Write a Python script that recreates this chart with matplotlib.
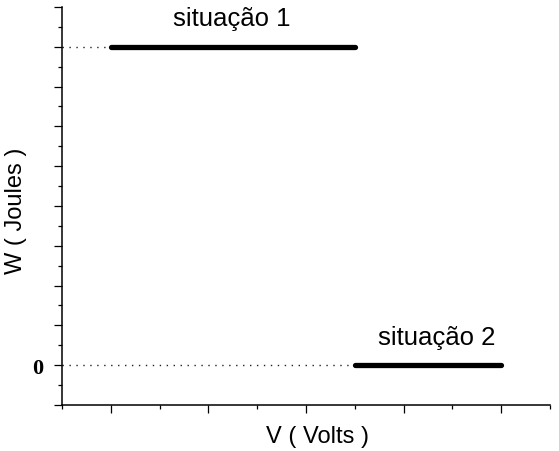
import matplotlib.pyplot as plt
from matplotlib.ticker import MultipleLocator

# data
v_sit1 = [1, 6]
w_sit1 = [8, 8]
v_sit2 = [6, 9]
w_sit2 = [0, 0]
labels = ['situação 1', 'situação 2']

plt.rcParams['font.family'] = ['Liberation Sans', 'DejaVu Sans']

fig = plt.figure(figsize=(5.59, 4.52), dpi=100)
ax = fig.add_axes([0.1109, 0.1018, 0.873, 0.8805])

# dotted guide lines from the axis to each segment
ax.plot([0, v_sit1[1]], w_sit1, color='#222222', lw=1.0, ls=(0, (1, 4)), zorder=1)
ax.plot([0, v_sit2[0]], w_sit2, color='#222222', lw=1.0, ls=(0, (1, 4)), zorder=1)

# thick segments
ax.plot(v_sit1, w_sit1, color='black', lw=3.8, solid_capstyle='round', zorder=2)
ax.plot(v_sit2, w_sit2, color='black', lw=3.8, solid_capstyle='round', zorder=2)

ax.text(sum(v_sit1) / 2 - 0.02, w_sit1[0] + 0.72, labels[0], ha='center', va='center', fontsize=18.5)
ax.text(sum(v_sit2) / 2 + 0.18, w_sit2[0] + 0.72, labels[1], ha='center', va='center', fontsize=18.5)

ax.set_xlim(0, 10)
ax.set_ylim(-1, 9)

ax.spines['top'].set_visible(False)
ax.spines['right'].set_visible(False)
ax.spines['left'].set_linewidth(1.1)
ax.spines['bottom'].set_linewidth(1.1)

ax.set_xticks([1, 3, 5, 7, 9])
ax.set_xticklabels([])
ax.xaxis.set_minor_locator(MultipleLocator(1))
yt = list(range(-1, 10))
ax.set_yticks(yt)
ax.set_yticklabels(['0' if t == 0 else '' for t in yt],
                   family='Liberation Serif', fontweight='bold', fontsize=16)
ax.yaxis.set_minor_locator(MultipleLocator(0.5))

ax.tick_params(which='major', direction='out', length=5.5, width=0.9, pad=8)
ax.tick_params(which='minor', direction='out', length=3, width=0.9)

ax.set_xlabel('V ( Volts )', fontsize=17)
ax.xaxis.set_label_coords(0.523, -0.05)
ax.set_ylabel('W ( Joules )', fontsize=17)
ax.yaxis.set_label_coords(-0.072, 0.49)

plt.savefig('out.png', dpi=100)
